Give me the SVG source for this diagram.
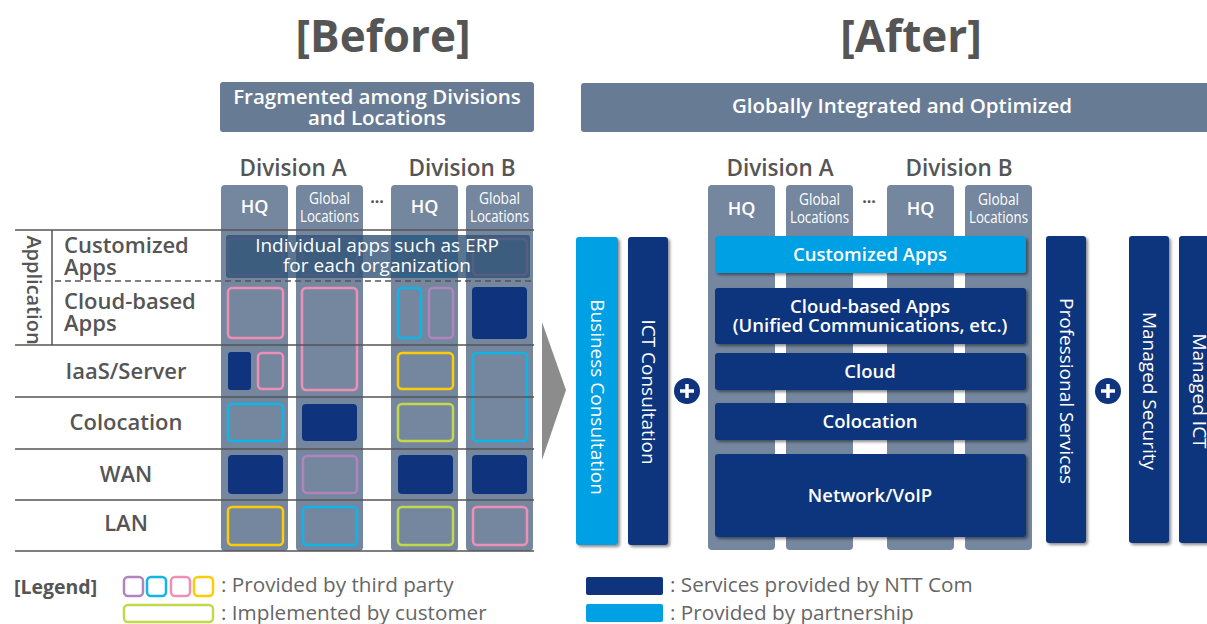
<svg xmlns="http://www.w3.org/2000/svg" width="1207" height="624" viewBox="0 0 1207 624">
<style>
text{font-family:"Open Sans","Noto Sans","Liberation Sans",sans-serif}
.title{font-size:44px;font-weight:700;fill:#555;text-anchor:middle}
.ban{fill:#677c94}
.bant{font-size:20.5px;font-weight:600;fill:#fff;text-anchor:middle}
.div{font-size:22.5px;font-weight:600;fill:#555;text-anchor:middle}
.col{fill:#74879f}
.hq{font-size:18px;font-weight:600;fill:#fff;text-anchor:middle}
.gl{font-size:17px;fill:#fff;text-anchor:middle}
.dots{font-size:16px;font-weight:700;fill:#555;text-anchor:middle}
.row{font-size:22px;font-weight:600;fill:#555}
.rowc{font-size:22px;font-weight:600;fill:#555;text-anchor:middle}
.ln{stroke:#555;stroke-width:1.5;fill:none}
.b{fill:none;stroke-width:2.5}
.pk{stroke:#ef8fb7}.cy{stroke:#10b5e8}.pu{stroke:#b184be}.ye{stroke:#ffcb05}.gr{stroke:#c4d84b}
.nv{fill:#0f347d}
.lb{fill:#00a0e4}
.bt{font-size:18.5px;font-weight:600;fill:#fff;text-anchor:middle}
.vt{font-size:19px;fill:#fff;text-anchor:middle}
.leg{font-size:20.7px;fill:#666}
</style>
<defs>
<filter id="sh" x="-10%" y="-10%" width="130%" height="130%">
<feDropShadow dx="2" dy="2" stdDeviation="1.5" flood-color="#000" flood-opacity="0.45"/>
</filter>
</defs>

<g id="titles">
<text class="title" x="383" y="52">[Before]</text>
<text class="title" x="911" y="52">[After]</text>
</g>

<g id="before-banner">
<rect class="ban" x="220" y="82" width="314" height="50" rx="3"/>
<text class="bant" x="377" y="104">Fragmented among Divisions</text>
<text class="bant" x="377" y="125">and Locations</text>
</g>

<g id="after-banner">
<rect class="ban" x="581" y="83" width="640" height="49" rx="3"/>
<text class="bant" x="902" y="113" font-size="23">Globally Integrated and Optimized</text>
</g>

<!-- BEFORE -->
<g id="before-divisions">
<text class="div" x="293" y="176">Division A</text>
<text class="div" x="462" y="176">Division B</text>
<text class="dots" x="377" y="203">...</text>
</g>

<g id="before-columns">
<rect class="col" x="221" y="185" width="67" height="366" rx="4"/>
<rect class="col" x="296" y="185" width="67" height="366" rx="4"/>
<rect class="col" x="391" y="185" width="67" height="366" rx="4"/>
<rect class="col" x="466" y="185" width="67" height="366" rx="4"/>
<text class="hq" x="254.5" y="213">HQ</text>
<text class="gl" x="329.5" y="204" textLength="41" lengthAdjust="spacingAndGlyphs">Global</text>
<text class="gl" x="329.5" y="222" textLength="59" lengthAdjust="spacingAndGlyphs">Locations</text>
<text class="hq" x="424.5" y="213">HQ</text>
<text class="gl" x="499.5" y="204" textLength="41" lengthAdjust="spacingAndGlyphs">Global</text>
<text class="gl" x="499.5" y="222" textLength="59" lengthAdjust="spacingAndGlyphs">Locations</text>
</g>

<g id="before-customized">
<rect class="b pu" x="228" y="239" width="55" height="36" rx="4"/>
<rect class="b pu" x="302" y="239" width="55" height="36" rx="4"/>
<rect class="b cy" x="398" y="239" width="55" height="36" rx="4"/>
<rect class="b pk" x="473" y="239" width="54" height="36" rx="4"/>
<rect x="226" y="235" width="304" height="43" rx="3" fill="#2f5276" fill-opacity="0.8"/>
<text x="377" y="252" font-size="19" fill="#fff" text-anchor="middle">Individual apps such as ERP</text>
<text x="377" y="272" font-size="19" fill="#fff" text-anchor="middle">for each organization</text>
</g>

<g id="before-cells">
<rect class="b pk" x="228" y="288" width="55" height="50" rx="4"/>
<rect class="b pk" x="302" y="288" width="55" height="102" rx="4"/>
<rect class="b cy" x="398" y="288" width="23" height="50" rx="4"/>
<rect class="b pu" x="429" y="288" width="24" height="50" rx="4"/>
<rect class="nv" x="472" y="287" width="55" height="52" rx="4"/>
<rect class="nv" x="228" y="352" width="23" height="38" rx="3"/>
<rect class="b pk" x="258" y="353" width="25" height="36" rx="4"/>
<rect class="b ye" x="398" y="353" width="55" height="36" rx="4"/>
<rect class="b cy" x="473" y="353" width="54" height="88" rx="4"/>
<rect class="b cy" x="228" y="404" width="55" height="37" rx="4"/>
<rect class="nv" x="302" y="404" width="55" height="37" rx="4"/>
<rect class="b gr" x="398" y="404" width="55" height="37" rx="4"/>
<rect class="nv" x="228" y="455" width="55" height="39" rx="4"/>
<rect class="b pu" x="303" y="456" width="54" height="37" rx="4"/>
<rect class="nv" x="398" y="455" width="55" height="39" rx="4"/>
<rect class="nv" x="472" y="455" width="55" height="39" rx="4"/>
<rect class="b ye" x="228" y="507" width="55" height="38" rx="4"/>
<rect class="b cy" x="303" y="507" width="54" height="38" rx="4"/>
<rect class="b gr" x="398" y="507" width="55" height="38" rx="4"/>
<rect class="b pk" x="473" y="507" width="54" height="38" rx="4"/>
</g>

<g id="before-rows">
<line class="ln" x1="15" y1="230" x2="534" y2="230"/>
<line class="ln" x1="55" y1="281" x2="534" y2="281" stroke-dasharray="6,4"/>
<line class="ln" x1="15" y1="345" x2="534" y2="345"/>
<line class="ln" x1="15" y1="397" x2="534" y2="397"/>
<line class="ln" x1="15" y1="449" x2="534" y2="449"/>
<line class="ln" x1="15" y1="500" x2="534" y2="500"/>
<line class="ln" x1="15" y1="551" x2="534" y2="551"/>
<line class="ln" x1="52" y1="230" x2="52" y2="345"/>
<text transform="translate(27,290) rotate(90)" font-size="20" font-weight="600" fill="#555" text-anchor="middle">Application</text>
<text class="row" x="64" y="253">Customized</text>
<text class="row" x="64" y="275">Apps</text>
<text class="row" x="64" y="309">Cloud-based</text>
<text class="row" x="64" y="331">Apps</text>
<text class="rowc" x="126" y="379">IaaS/Server</text>
<text class="rowc" x="126" y="430">Colocation</text>
<text class="rowc" x="126" y="482">WAN</text>
<text class="rowc" x="126" y="531">LAN</text>
</g>

<g id="connectors">
<polygon points="542,322 566,390 542,460" fill="#8c8c8c"/>
</g>

<!-- AFTER -->
<g id="after-divisions">
<text class="div" x="780" y="176">Division A</text>
<text class="div" x="959" y="176">Division B</text>
<text class="dots" x="869" y="203">...</text>
</g>

<g id="after-columns">
<rect class="col" x="708" y="185" width="67" height="365" rx="4"/>
<rect class="col" x="786" y="185" width="67" height="365" rx="4"/>
<rect class="col" x="887" y="185" width="67" height="365" rx="4"/>
<rect class="col" x="965" y="185" width="67" height="365" rx="4"/>
<text class="hq" x="741.5" y="215">HQ</text>
<text class="gl" x="819.5" y="205" textLength="41" lengthAdjust="spacingAndGlyphs">Global</text>
<text class="gl" x="819.5" y="223" textLength="59" lengthAdjust="spacingAndGlyphs">Locations</text>
<text class="hq" x="920.5" y="215">HQ</text>
<text class="gl" x="998.5" y="205" textLength="41" lengthAdjust="spacingAndGlyphs">Global</text>
<text class="gl" x="998.5" y="223" textLength="59" lengthAdjust="spacingAndGlyphs">Locations</text>
</g>

<g id="after-customized-apps">
<rect class="lb" x="715" y="236" width="311" height="37" rx="3" filter="url(#sh)"/>
<text class="bt" x="870" y="261">Customized Apps</text>
</g>
<g id="after-cloud-apps">
<rect class="nv" x="715" y="288" width="311" height="56" rx="3" filter="url(#sh)"/>
<text class="bt" x="870" y="313">Cloud-based Apps</text>
<text class="bt" x="870" y="332">(Unified Communications, etc.)</text>
</g>
<g id="after-cloud">
<rect class="nv" x="715" y="353" width="311" height="37" rx="3" filter="url(#sh)"/>
<text class="bt" x="870" y="378">Cloud</text>
</g>
<g id="after-colocation">
<rect class="nv" x="715" y="403" width="311" height="37" rx="3" filter="url(#sh)"/>
<text class="bt" x="870" y="428">Colocation</text>
</g>
<g id="after-network">
<rect class="nv" x="715" y="454" width="311" height="83" rx="3" filter="url(#sh)"/>
<text class="bt" x="870" y="502">Network/VoIP</text>
</g>

<g id="business-consultation">
<rect class="lb" x="576" y="237" width="42" height="308" rx="3" filter="url(#sh)"/>
<text class="vt" transform="translate(597,397) rotate(90)" dy="6.5">Business Consultation</text>
</g>
<g id="ict-consultation">
<rect class="nv" x="628" y="237" width="40" height="308" rx="3" filter="url(#sh)"/>
<text class="vt" transform="translate(648,392) rotate(90)" dy="6.5">ICT Consultation</text>
</g>
<g id="plus-left">
<circle cx="687" cy="391" r="13" class="nv"/>
<path d="M680 391h14M687 384v14" stroke="#fff" stroke-width="3.5"/>
</g>
<g id="professional-services">
<rect class="nv" x="1046" y="236" width="40" height="307" rx="3" filter="url(#sh)"/>
<text class="vt" transform="translate(1066,391) rotate(90)" dy="6.5">Professional Services</text>
</g>
<g id="plus-right">
<circle cx="1108" cy="391" r="13" class="nv"/>
<path d="M1101 391h14M1108 384v14" stroke="#fff" stroke-width="3.5"/>
</g>
<g id="managed-security">
<rect class="nv" x="1129" y="236" width="40" height="307" rx="3" filter="url(#sh)"/>
<text class="vt" transform="translate(1149,391) rotate(90)" dy="6.5">Managed Security</text>
</g>
<g id="managed-ict">
<rect class="nv" x="1179" y="236" width="45" height="307" rx="3" filter="url(#sh)"/>
<text class="vt" transform="translate(1199,391) rotate(90)" dy="6.5">Managed ICT</text>
</g>

<g id="legend">
<text x="14" y="594" font-size="19.5" font-weight="700" fill="#555">[Legend]</text>
<rect class="b pu" x="124" y="577" width="19" height="19" rx="4"/>
<rect class="b cy" x="147" y="577" width="19" height="19" rx="4"/>
<rect class="b pk" x="171" y="577" width="19" height="19" rx="4"/>
<rect class="b ye" x="194" y="577" width="19" height="19" rx="4"/>
<rect class="b gr" x="124" y="605" width="89" height="17" rx="4"/>
<text class="leg" x="221" y="592">: Provided by third party</text>
<text class="leg" x="221" y="620">: Implemented by customer</text>
<rect class="nv" x="586" y="577" width="77" height="18" rx="2"/>
<rect class="lb" x="586" y="604" width="77" height="18" rx="2"/>
<text class="leg" x="670" y="592">: Services provided by NTT Com</text>
<text class="leg" x="670" y="620">: Provided by partnership</text>
</g>
</svg>
